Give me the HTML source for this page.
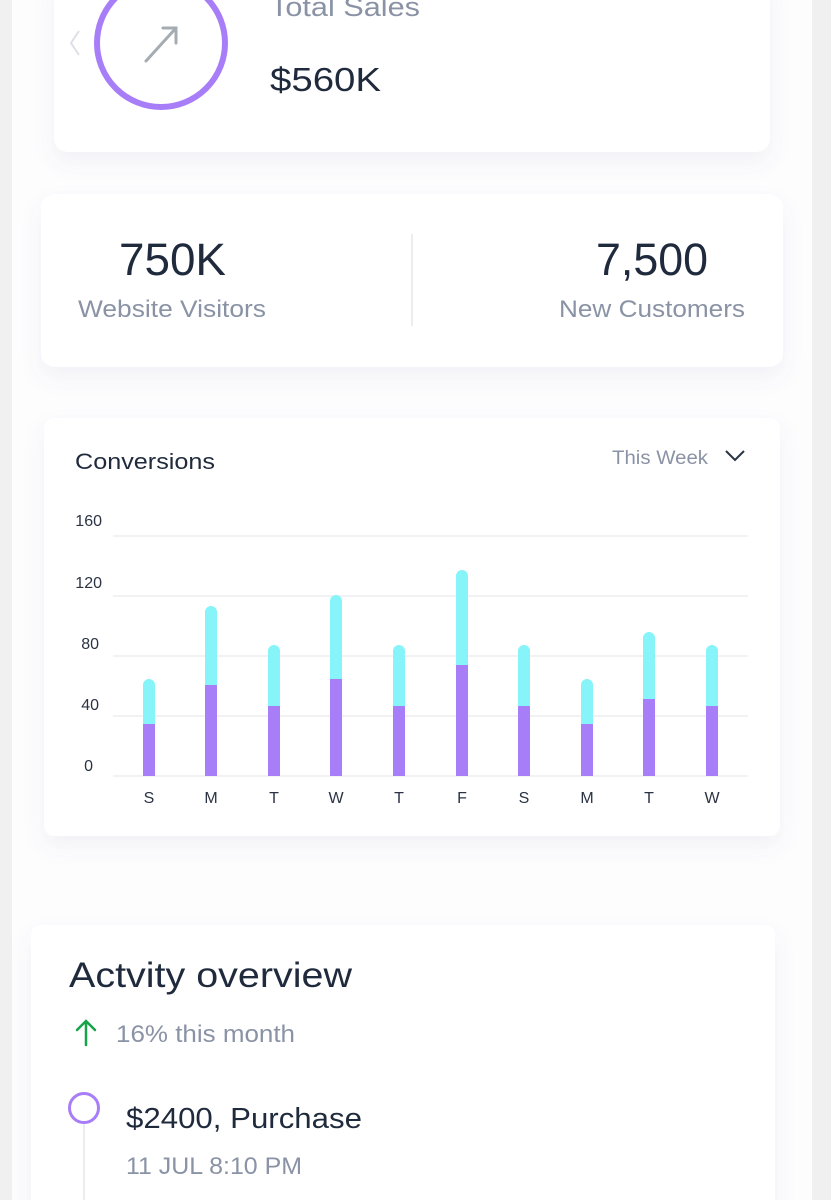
<!DOCTYPE html>
<html><head><meta charset="utf-8"><style>
html,body{margin:0;padding:0;width:831px;height:1200px;overflow:hidden;background:#f0f0f1}
svg{display:block}
text{font-family:"Liberation Sans",sans-serif}
</style></head><body>
<svg width="831" height="1200" viewBox="0 0 831 1200" xmlns="http://www.w3.org/2000/svg">
<defs>
<filter id="sh" x="-10%" y="-20%" width="120%" height="150%">
<feDropShadow dx="0" dy="10" stdDeviation="10" flood-color="#6b6fa0" flood-opacity="0.08"/>
</filter>
</defs>
<rect x="0" y="0" width="831" height="1200" fill="#f0f0f1"/>
<rect x="12" y="0" width="800" height="1200" fill="#fdfdfe"/>
<rect x="54" y="-30" width="716" height="182" rx="14" fill="#fff" filter="url(#sh)"/>
<path d="M79 31 L71 43 L79 55" fill="none" stroke="#dde0e5" stroke-width="2"/>
<circle cx="161" cy="43" r="64" fill="none" stroke="#a77ef8" stroke-width="6"/>
<path d="M146 61 L176 28 M163 28 L176 28 L176 43" fill="none" stroke="#a4acb2" stroke-width="3" stroke-linecap="round"/>
<text x="270" y="16" font-size="27" fill="#8a93a5" textLength="150" lengthAdjust="spacingAndGlyphs">Total Sales</text>
<text x="270" y="91" font-size="33" fill="#1f2a3c" textLength="111" lengthAdjust="spacingAndGlyphs">$560K</text>
<rect x="41" y="194" width="742" height="173" rx="14" fill="#fff" filter="url(#sh)"/>
<line x1="412" y1="234" x2="412" y2="326" stroke="#e6e7ea" stroke-width="1.5"/>
<text x="119" y="275" font-size="45" fill="#1f2a3c" textLength="107" lengthAdjust="spacingAndGlyphs">750K</text>
<text x="78" y="317" font-size="24" fill="#8a93a5" textLength="188" lengthAdjust="spacingAndGlyphs">Website Visitors</text>
<text x="596" y="275" font-size="45" fill="#1f2a3c" textLength="112" lengthAdjust="spacingAndGlyphs">7,500</text>
<text x="559" y="317" font-size="24" fill="#8a93a5" textLength="186" lengthAdjust="spacingAndGlyphs">New Customers</text>
<rect x="44" y="418" width="736" height="418" rx="10" fill="#fff" filter="url(#sh)"/>
<text x="75" y="469" font-size="22" fill="#1f2a3c" textLength="140" lengthAdjust="spacingAndGlyphs">Conversions</text>
<text x="612" y="464" font-size="19" fill="#8a93a5" textLength="96" lengthAdjust="spacingAndGlyphs">This Week</text>
<path d="M726 451 L735 460 L744 451" fill="none" stroke="#2a3344" stroke-width="2"/>
<g stroke="#eeeef2" stroke-width="1.5">
<line x1="113" y1="536" x2="748" y2="536"/>
<line x1="113" y1="596" x2="748" y2="596"/>
<line x1="113" y1="656" x2="748" y2="656"/>
<line x1="113" y1="716" x2="748" y2="716"/>
<line x1="113" y1="776" x2="748" y2="776"/>
</g>
<g font-size="16" fill="#2a3344" text-anchor="end">
<text x="102" y="526">160</text>
<text x="102" y="588">120</text>
<text x="99" y="649">80</text>
<text x="99" y="710">40</text>
<text x="93" y="771">0</text>
</g>
<g>
<path d="M143 776 V685 a6 6 0 0 1 12 0 V776Z" fill="#86f4f8"/><rect x="143" y="724" width="12" height="52" fill="#a77ef8"/>
<path d="M205 776 V612 a6 6 0 0 1 12 0 V776Z" fill="#86f4f8"/><rect x="205" y="685" width="12" height="91" fill="#a77ef8"/>
<path d="M268 776 V651 a6 6 0 0 1 12 0 V776Z" fill="#86f4f8"/><rect x="268" y="706" width="12" height="70" fill="#a77ef8"/>
<path d="M330 776 V601 a6 6 0 0 1 12 0 V776Z" fill="#86f4f8"/><rect x="330" y="679" width="12" height="97" fill="#a77ef8"/>
<path d="M393 776 V651 a6 6 0 0 1 12 0 V776Z" fill="#86f4f8"/><rect x="393" y="706" width="12" height="70" fill="#a77ef8"/>
<path d="M456 776 V576 a6 6 0 0 1 12 0 V776Z" fill="#86f4f8"/><rect x="456" y="665" width="12" height="111" fill="#a77ef8"/>
<path d="M518 776 V651 a6 6 0 0 1 12 0 V776Z" fill="#86f4f8"/><rect x="518" y="706" width="12" height="70" fill="#a77ef8"/>
<path d="M581 776 V685 a6 6 0 0 1 12 0 V776Z" fill="#86f4f8"/><rect x="581" y="724" width="12" height="52" fill="#a77ef8"/>
<path d="M643 776 V638 a6 6 0 0 1 12 0 V776Z" fill="#86f4f8"/><rect x="643" y="699" width="12" height="77" fill="#a77ef8"/>
<path d="M706 776 V651 a6 6 0 0 1 12 0 V776Z" fill="#86f4f8"/><rect x="706" y="706" width="12" height="70" fill="#a77ef8"/>
</g>
<g font-size="16" fill="#2a3344" text-anchor="middle">
<text x="149" y="803">S</text><text x="211" y="803">M</text><text x="274" y="803">T</text>
<text x="336" y="803">W</text><text x="399" y="803">T</text><text x="462" y="803">F</text>
<text x="524" y="803">S</text><text x="587" y="803">M</text><text x="649" y="803">T</text>
<text x="712" y="803">W</text>
</g>
<rect x="31" y="925" width="744" height="320" rx="10" fill="#fff" filter="url(#sh)"/>
<text x="69" y="987" font-size="35" fill="#1f2a3c" textLength="283" lengthAdjust="spacingAndGlyphs">Actvity overview</text>
<path d="M86 1045 V1021 M77 1030 L86 1021 L95 1030" fill="none" stroke="#16a34a" stroke-width="2.5" stroke-linecap="round"/>
<text x="116" y="1042" font-size="24" fill="#8a93a5" textLength="179" lengthAdjust="spacingAndGlyphs">16% this month</text>
<line x1="84" y1="1123" x2="84" y2="1200" stroke="#e3e5ea" stroke-width="1.5"/>
<circle cx="84" cy="1108" r="14.5" fill="#fff" stroke="#a77ef8" stroke-width="3"/>
<text x="126" y="1128" font-size="29" fill="#1f2a3c" textLength="236" lengthAdjust="spacingAndGlyphs">$2400, Purchase</text>
<text x="126" y="1174" font-size="24" fill="#8a93a5" textLength="176" lengthAdjust="spacingAndGlyphs">11 JUL 8:10 PM</text>
</svg>
</body></html>
